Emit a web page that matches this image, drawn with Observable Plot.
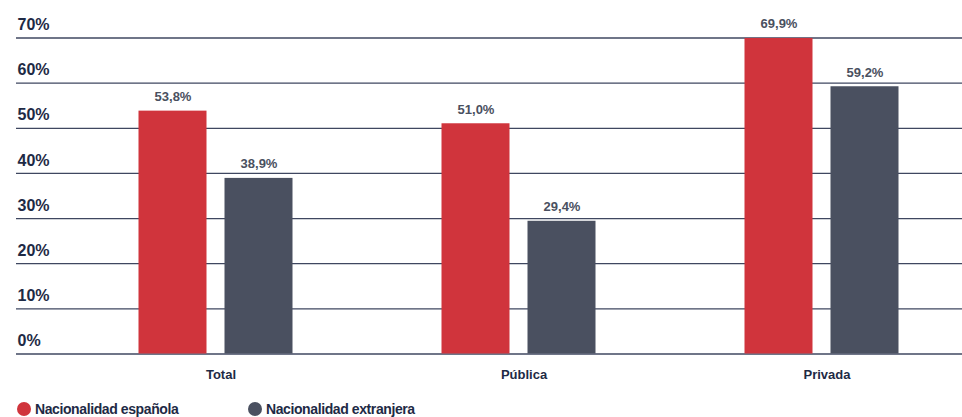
<!DOCTYPE html>
<html><head><meta charset="utf-8">
<script src="https://cdn.jsdelivr.net/npm/d3@7"></script>
<script src="https://cdn.jsdelivr.net/npm/@observablehq/plot@0.6"></script>
<style>
body{margin:0;background:#fff;font-family:"Liberation Sans",Arial,sans-serif;}
#wrap{position:relative;width:962px;height:417px;}
#legend{position:absolute;left:17px;top:401px;display:flex;font-weight:bold;font-size:14px;letter-spacing:-0.4px;color:#1e2a45;}
.item{display:flex;align-items:center;}
.dot{width:14px;height:14px;border-radius:50%;margin-right:4px;}
</style></head>
<body><div id="wrap"><div id="chart"></div>
<div id="legend">
<div class="item" style="width:231px"><span class="dot" style="background:#d0343c"></span>Nacionalidad española</div>
<div class="item"><span class="dot" style="background:#4a5060"></span>Nacionalidad extranjera</div>
</div></div>
<script>
const categories = ["Total", "Pública", "Privada"];
const espanola = [53.8, 51.0, 69.9];
const extranjera = [38.9, 29.4, 59.2];
const yTicks = [0, 10, 20, 30, 40, 50, 60, 70];

const red = "#d0343c", gray = "#4a5060", navy = "#1e2a45";
const rows = categories.flatMap((c, i) => [
  {cat: c, serie: "esp", value: espanola[i]},
  {cat: c, serie: "ext", value: extranjera[i]}
]);
const esp = rows.filter(d => d.serie === "esp");
const ext = rows.filter(d => d.serie === "ext");
const fmt = v => v.toFixed(1).replace(".", ",") + "%";

const chart = Plot.plot({
  width: 962, height: 398,
  marginLeft: 16, marginRight: 0, marginTop: 0, marginBottom: 0,
  style: {fontFamily: "'Liberation Sans', Arial, sans-serif", background: "#fff"},
  x: {domain: categories, range: [63.5, 972.5], padding: 0, axis: null},
  y: {domain: [0, 70], range: [353.5, 37.5], axis: null},
  marks: [
    Plot.ruleY(yTicks, {stroke: "#3f4760", strokeWidth: 1.3}),
    Plot.text(yTicks, {y: d => d, text: d => d + "%", frameAnchor: "left", textAnchor: "start", dx: 1, dy: -13, fontSize: 16, fontWeight: "bold", fill: navy}),
    Plot.barY(esp, {x: "cat", y: "value", fill: red, insetLeft: 74.5, insetRight: 160.5}),
    Plot.barY(ext, {x: "cat", y: "value", fill: gray, insetLeft: 160.5, insetRight: 74.5}),
    Plot.text(esp, {x: "cat", y: "value", text: d => fmt(d.value), dx: -43, dy: -10, lineAnchor: "bottom", fontSize: 13, fontWeight: "bold", fill: gray, letterSpacing: -0.3}),
    Plot.text(ext, {x: "cat", y: "value", text: d => fmt(d.value), dx: 43, dy: -10, lineAnchor: "bottom", fontSize: 13, fontWeight: "bold", fill: gray, letterSpacing: -0.3}),
    Plot.text(categories, {x: d => d, y: 0, text: d => d, dx: 5, dy: 21, fontSize: 13, fontWeight: "bold", fill: navy})
  ]
});
document.getElementById("chart").append(chart);
</script></body></html>
